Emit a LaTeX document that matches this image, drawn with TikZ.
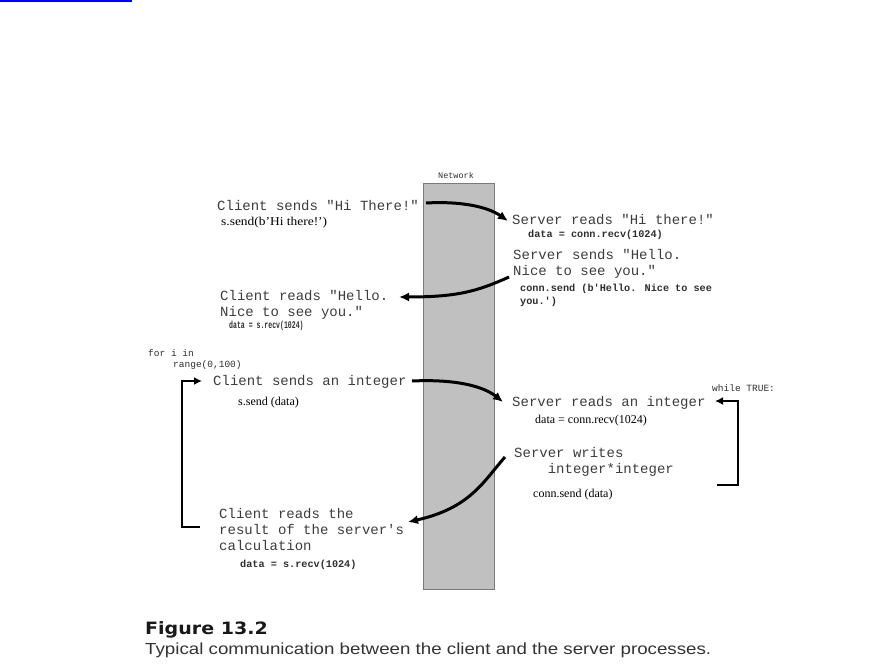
\documentclass[tikz,border=0pt]{standalone}
\usepackage{fontspec}
\usepackage{graphicx}
\usetikzlibrary{arrows.meta}
\setmainfont{Liberation Serif}
\newfontfamily\mainmono{Liberation Mono}
\newfontfamily\codemono{Liberation Mono}
\newfontfamily\capbold{DejaVu Sans}
\newfontfamily\capsans{Liberation Sans}
\definecolor{netgray}{HTML}{C0C0C0}
\definecolor{netedge}{HTML}{7A7A7A}
\definecolor{txtgray}{HTML}{3C3C3C}
\definecolor{codegray}{HTML}{2E2E2E}
\definecolor{linkblue}{HTML}{0000EE}
\tikzset{
  lbl/.style={anchor=west, inner sep=0pt, align=left, text=txtgray,
    font=\mainmono\fontsize{14}{16}\selectfont},
  codelbl/.style={anchor=west, inner sep=0pt, align=left, text=codegray,
    font=\codemono\bfseries\fontsize{10.2}{13}\selectfont},
  serlbl/.style={anchor=west, inner sep=0pt, align=left, text=black,
    font=\fontsize{12}{14}\selectfont},
  smallmono/.style={anchor=west, inner sep=0pt, text=codegray,
    font=\codemono\fontsize{9.5}{11}\selectfont},
  flow/.style={line width=3pt, -{Latex[length=10pt,width=9pt]}},
  loopline/.style={line width=2.5pt, -{Latex[length=8pt,width=8pt]}},
}
\begin{document}
\begin{tikzpicture}[x=1pt,y=-1pt]
\useasboundingbox (0,0) rectangle (878,669);
\fill[linkblue] (0,0) rectangle (132,2);

% network column
\node[draw=netedge, fill=netgray, line width=1pt, minimum width=71pt, minimum height=406pt, inner sep=0pt] (net) at (458.5,386) {};
\node[smallmono, anchor=center, font=\codemono\fontsize{8.5}{10}\selectfont] (netlbl) at (456,175) {Network};

% client side
\node[lbl] (c1) at (217,206) {Client sends "Hi There!"};
\node[serlbl] (c1code) at (221,223) {\scalebox{1.12}[1]{s.send(b'Hi there!')}};
\node[lbl] (c2) at (220,305) {Client reads "Hello.\\Nice to see you."};
\node[codelbl] (c2code) at (229,326) {\scalebox{0.64}[1]{data = s.recv(1024)}};
\node[smallmono] (fori) at (148,353) {for i in};
\node[smallmono] (range) at (173,365) {range(0,100)};
\node[lbl] (c3) at (213,382) {Client sends an integer};
\node[serlbl] (c3code) at (238,403) {s.send (data)};
\node[lbl] (c4) at (219,529) {Client reads the\\result of the server's\\calculation};
\node[codelbl] (c4code) at (240,565) {data = s.recv(1024)};

% server side
\node[lbl] (s1) at (512,220) {Server reads "Hi there!"};
\node[codelbl] (s1code) at (528,235) {data = conn.recv(1024)};
\node[lbl] (s2) at (513,264) {Server sends "Hello.\\Nice to see you."};
\node[codelbl] (s2code) at (520,295) {conn.send (b'Hello. Nice to see\\you.')};
\node[lbl] (s3) at (512,403) {Server reads an integer};
\node[serlbl] (s3code) at (535,421) {data = conn.recv(1024)};
\node[smallmono] (while) at (712,388) {while TRUE:};
\node[lbl] (s4) at (514,462) {Server writes\\\hphantom{Serv}integer*integer};
\node[serlbl] (s4code) at (533,495) {conn.send (data)};

% connectors
\coordinate (a1s) at (426,203);
\coordinate (a1e) at (508,221);
\draw[flow] (a1s) .. controls (462,201) and (488,207) .. (a1e);
\coordinate (a2s) at (509,277);
\coordinate (a2e) at (399,297);
\draw[flow] (a2s) .. controls (478,291) and (458,297) .. (a2e);
\coordinate (a3s) at (412,381);
\coordinate (a3e) at (503,402);
\draw[flow] (a3s) .. controls (455,379) and (483,386) .. (a3e);
\coordinate (a4s) at (505,457);
\coordinate (a4e) at (408,522);
\draw[flow] (a4s) .. controls (483,482) and (470,508) .. (a4e);

% loops
\coordinate (lb) at (200,527);
\coordinate (lt) at (202,381);
\draw[loopline] (lb) -- ++(-18,0) |- (lt);
\coordinate (rb) at (717,485);
\coordinate (rt) at (715,401);
\draw[loopline] (rb) -- ++(21,0) |- (rt);

% caption
\node[anchor=west, inner sep=0pt, text=black!90, font=\capbold\bfseries\fontsize{17}{20}\selectfont] (fig) at (145,630) {\scalebox{1.12}[1]{Figure 13.2}};
\node[anchor=west, inner sep=0pt, text=black!80, font=\capsans\fontsize{16}{18}\selectfont] (cap) at (145,650) {\scalebox{1.17}[1]{Typical communication between the client and the server processes.}};
\end{tikzpicture}
\end{document}
